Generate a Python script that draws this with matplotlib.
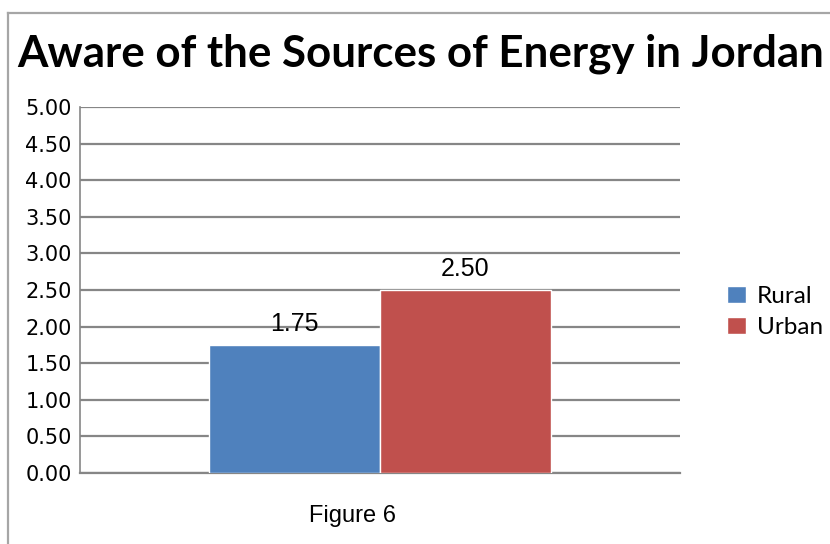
import numpy as np
import matplotlib.pyplot as plt
from matplotlib.lines import Line2D

# survey averages, one group of bars
series = ['Rural', 'Urban']
values = [1.75, 2.50]
colors = ['#4f81bd', '#c0504d']
yticks = [0.0, 0.5, 1.0, 1.5, 2.0, 2.5, 3.0, 3.5, 4.0, 4.5, 5.0]

title = 'Aware of the Sources of Energy in Jordan'
caption = 'Figure 6'

fig = plt.figure(figsize=(8.3, 5.44), dpi=100)
ax = fig.add_axes([0.0964, 0.1305, 0.7229, 0.6728])

# frame around the whole chart (left and top edges visible)
fig.add_artist(Line2D([0.0096, 0.0096], [0.0, 0.976], color='#a6a6a6', lw=1.6,
                      transform=fig.transFigure))
fig.add_artist(Line2D([0.0096, 1.0], [0.976, 0.976], color='#a6a6a6', lw=1.6,
                      transform=fig.transFigure))

w = 0.57
xpos = [-w / 2, w / 2]
bars = ax.bar(xpos, values, width=w, color=colors, edgecolor='white',
              linewidth=1.0, zorder=3)

for x, v in zip(xpos, values):
    ax.annotate(f'{v:.2f}', (x, v), xytext=(0, 10), textcoords='offset points',
                ha='center', va='baseline', fontsize=18,
                family='Liberation Sans', zorder=4)

ax.set_xlim(-1, 1)
ax.set_ylim(0, 5)
ax.set_yticks(yticks)
ax.set_yticklabels([f'{t:.2f}' for t in yticks])
ax.set_xticks([])
ax.tick_params(axis='y', length=0, pad=6, labelsize=15)
ax.yaxis.grid(True, color='#868686', lw=1.6, zorder=0)
ax.set_axisbelow(True)

for side in ['top', 'right']:
    ax.spines[side].set_visible(False)
ax.spines['left'].set_color('#868686')
ax.spines['bottom'].set_color('#868686')
ax.spines['left'].set_linewidth(1.2)
ax.spines['bottom'].set_linewidth(1.6)

fig.text(0.0205, 0.877, title, fontsize=31.6, fontweight='bold',
         family='Lato', ha='left', va='baseline')

fig.text(0.425, 0.04, caption, fontsize=17, family='Liberation Sans',
         ha='center', va='baseline')

ax.legend(handles=list(bars), labels=series, loc='center left',
          bbox_to_anchor=(1.078, 0.44), frameon=False, borderpad=0,
          borderaxespad=0, prop={'family': 'Lato', 'size': 17.5},
          handlelength=0.8, handleheight=0.7, handletextpad=0.45,
          labelspacing=0.4)

plt.savefig('out.png', dpi=100)
